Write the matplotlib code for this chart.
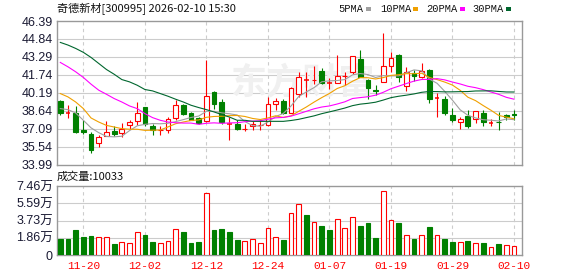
import numpy as np
import matplotlib
matplotlib.use('Agg')
import matplotlib.pyplot as plt
from matplotlib.patches import Rectangle

# ---------------- data ----------------
dates = ['11-17', '11-18', '11-19', '11-20', '11-21', '11-24', '11-25', '11-26', '11-27', '11-28',
         '12-01', '12-02', '12-03', '12-04', '12-05', '12-08', '12-09', '12-10', '12-11', '12-12',
         '12-15', '12-16', '12-17', '12-18', '12-19', '12-22', '12-23', '12-24', '12-25', '12-26',
         '12-29', '12-30', '12-31', '01-05', '01-06', '01-07', '01-08', '01-09', '01-12', '01-13',
         '01-14', '01-15', '01-16', '01-19', '01-20', '01-21', '01-22', '01-23', '01-26', '01-27',
         '01-28', '01-29', '01-30', '02-02', '02-03', '02-04', '02-05', '02-06', '02-09', '02-10']

opens = [39.45, 38.44, 38.47, 36.97, 36.59, 35.87, 36.48, 36.85, 36.71, 37.40,
         37.75, 38.93, 37.28, 36.94, 37.00, 38.04, 39.17, 38.47, 38.04, 37.75,
         40.26, 39.43, 37.46, 37.46, 37.07, 37.30, 37.37, 37.40, 39.25, 39.45,
         38.47, 40.06, 41.25, 41.25, 42.06, 41.02, 41.04, 41.64, 42.00, 43.10,
         41.33, 40.43, 41.16, 42.49, 43.47, 40.75, 41.91, 41.51, 42.14, 39.70,
         39.63, 38.30, 37.69, 38.15, 37.95, 38.47, 37.57, 37.68, 38.30, 38.35]
highs = [39.54, 39.17, 39.02, 37.81, 36.79, 36.50, 37.72, 37.28, 37.60, 37.81,
         39.39, 38.95, 37.52, 37.28, 38.09, 39.54, 39.25, 38.50, 38.09, 43.01,
         40.30, 39.69, 38.09, 37.81, 37.46, 37.72, 37.81, 39.78, 39.74, 39.63,
         40.70, 41.94, 41.94, 42.49, 42.29, 41.47, 43.44, 42.00, 43.36, 43.88,
         41.35, 40.84, 45.38, 43.70, 43.50, 42.40, 42.14, 42.72, 42.25, 40.17,
         39.95, 38.87, 38.09, 38.67, 38.60, 38.73, 37.95, 38.53, 38.33, 38.67]
lows = [38.24, 38.00, 36.71, 36.65, 35.00, 35.49, 36.42, 36.42, 36.39, 37.09,
        37.37, 37.28, 36.50, 36.50, 36.74, 37.87, 38.24, 37.82, 37.52, 37.70,
        38.82, 37.52, 36.13, 37.00, 36.85, 36.94, 36.94, 37.35, 38.67, 38.33,
        38.42, 39.78, 39.78, 40.93, 40.93, 40.55, 40.99, 40.84, 41.85, 41.51,
        39.69, 39.97, 41.13, 42.00, 41.13, 40.35, 41.19, 41.45, 39.31, 38.09,
        38.30, 37.66, 37.05, 37.17, 37.57, 37.28, 37.28, 36.94, 37.87, 37.87]
closes = [38.47, 38.44, 36.77, 36.83, 35.27, 36.39, 36.82, 36.59, 37.09, 37.69,
          38.47, 37.46, 36.94, 36.98, 37.92, 39.17, 38.33, 37.87, 37.60, 39.95,
          39.19, 37.66, 37.46, 37.09, 37.10, 37.45, 37.40, 39.25, 39.45, 38.47,
          40.64, 41.51, 41.25, 41.30, 40.99, 41.04, 41.65, 41.67, 43.33, 41.56,
          40.60, 40.38, 42.49, 43.21, 41.56, 41.94, 41.62, 42.08, 39.65, 39.73,
          38.44, 37.81, 37.95, 37.28, 38.59, 37.66, 37.59, 37.64, 38.13, 38.31]

# volume in 万 (10k lots)
volumes = [1.73, 1.73, 2.70, 1.95, 2.05, 1.91, 1.91, 1.19, 1.37, 1.30,
           2.45, 2.16, 1.41, 1.30, 1.48, 2.77, 2.49, 1.30, 1.41, 6.67,
           2.70, 2.81, 2.49, 1.62, 1.48, 1.70, 1.30, 2.88, 1.91, 1.62,
           4.50, 5.51, 4.32, 3.53, 3.14, 2.70, 3.86, 2.88, 4.07, 3.14,
           3.46, 1.84, 6.88, 3.75, 3.46, 2.13, 1.73, 2.13, 3.03, 2.13,
           1.73, 1.41, 1.41, 1.51, 1.26, 1.30, 0.83, 1.19, 1.05, 1.0033]
vol_up = [0, 0, 0, 0, 0, 1, 1, 0, 1, 1,
          1, 0, 0, 1, 1, 1, 0, 0, 0, 1,
          0, 0, 0, 0, 1, 1, 1, 1, 1, 0,
          1, 1, 0, 1, 0, 0, 1, 1, 1, 0,
          0, 0, 1, 1, 0, 1, 0, 1, 0, 1,
          0, 0, 1, 0, 1, 0, 1, 0, 1, 1]

# moving-average values before a full window is available
ma5_head = [38.82, 38.73, 38.44, 37.81]
ma10_head = [40.12, 39.83, 39.39, 38.82, 38.01, 37.66, 37.37, 37.23, 37.09]
ma20_head = [42.81, 42.43, 42.00, 41.51, 40.93, 40.41, 40.06, 39.69, 39.39, 39.05,
             38.82, 38.39, 38.04, 37.81, 37.66, 37.60, 37.57, 37.57, 37.46]
ma30_head = [44.54, 44.31, 44.02, 43.68, 43.24, 42.72, 42.20, 41.79, 41.33, 41.13,
             40.84, 40.47, 40.35, 40.12, 39.89, 39.63, 39.39, 39.11, 38.91, 38.73,
             38.53, 38.30, 38.09, 37.81, 37.81, 37.72, 37.72, 37.72, 37.72]

price_ticks = [33.99, 35.54, 37.09, 38.64, 40.19, 41.74, 43.29, 44.84, 46.39]
vol_ticks = [0, 1.865, 3.73, 5.595, 7.46]
vol_tick_labels = ['0', '1.86万', '3.73万', '5.59万', '7.46万']
label_dates = ['11-20', '12-02', '12-12', '12-24', '01-07', '01-19', '01-29', '02-10']

title_text = '奇德新材[300995] 2026-02-10 15:30'
vol_title = '成交量:10033'
ma_names = ['5PMA', '10PMA', '20PMA', '30PMA']
ma_windows = [5, 10, 20, 30]
ma_colors = ['#a0a0a0', '#f0a000', '#ff00ff', '#00662e']

RED = '#ff0000'
GREEN = '#008000'
LW = 0.8

# ---------------- figure ----------------
W, H = 578, 276
fig = plt.figure(figsize=(W / 100, H / 100), dpi=100)
fig.patch.set_facecolor('white')

def frac_box(left, top, right, bottom):
    return [left / W, 1 - bottom / H, (right - left) / W, (bottom - top) / H]

ax = fig.add_axes(frac_box(57, 21, 522, 164.5))
axv = fig.add_axes(frac_box(57, 186, 522, 255))

n = len(closes)
x = np.arange(n)
o = np.array(opens); h = np.array(highs); l = np.array(lows); c = np.array(closes)
label_idx = [dates.index(d) for d in label_dates]

for a in (ax, axv):
    a.set_xlim(-0.43, n + 0.04)
    for s in a.spines.values():
        s.set_color('#999999')
        s.set_linewidth(1)
    a.tick_params(length=0)
    for xi in label_idx:
        a.axvline(xi, color='#cccccc', lw=LW, ls=(0, (3, 3)), zorder=0)

# price panel
ax.set_ylim(price_ticks[0], price_ticks[-1])
ax.set_yticks(price_ticks)
ax.set_yticklabels([f'{t:.2f}' for t in price_ticks], fontsize=9,
                   family='Liberation Sans', color='#1a1a33')
ax.tick_params(axis='y', pad=3)
ax.set_xticks([])
for t in price_ticks[1:-1]:
    ax.axhline(t, color='#cccccc', lw=LW, zorder=0)

# watermark
ax.text(0.53, 0.57, '东方财富', transform=ax.transAxes, fontsize=26,
        family='Noto Sans CJK SC', fontweight='bold', color='#f0f0f0',
        ha='center', va='center', style='italic', zorder=0.5)

bw = 0.62
for i in range(n):
    up = c[i] >= o[i]
    col = RED if up else GREEN
    ax.vlines(x[i], l[i], h[i], color=col, lw=LW, zorder=2)
    bottom = min(o[i], c[i])
    height = max(abs(c[i] - o[i]), 0.02)
    if abs(c[i] - o[i]) < 0.03:
        ax.hlines((o[i] + c[i]) / 2, x[i] - bw / 2, x[i] + bw / 2, color=col, lw=1.1, zorder=3)
    else:
        ax.add_patch(Rectangle((x[i] - bw / 2, bottom), bw, height,
                               facecolor='white' if up else GREEN, edgecolor=col,
                               lw=LW, zorder=3))

heads = [ma5_head, ma10_head, ma20_head, ma30_head]
for wdw, head, col in zip(ma_windows, heads, ma_colors):
    vals = np.empty(n)
    vals[:wdw - 1] = head
    for i in range(wdw - 1, n):
        vals[i] = c[i - wdw + 1:i + 1].mean()
    ax.plot(x, vals, color=col, lw=LW, zorder=4)

# volume panel
axv.set_ylim(0, vol_ticks[-1])
axv.set_yticks(vol_ticks)
axv.set_yticklabels(vol_tick_labels, fontsize=9,
                    family=['Liberation Sans', 'Noto Sans CJK SC'], color='#1a1a33')
axv.tick_params(axis='y', pad=3)
for t in vol_ticks[1:-1]:
    axv.axhline(t, color='#cccccc', lw=LW, zorder=0)
for i in range(n):
    col = RED if vol_up[i] else GREEN
    axv.add_patch(Rectangle((x[i] - bw / 2, 0), bw, volumes[i],
                            facecolor='white' if vol_up[i] else GREEN,
                            edgecolor=col, lw=LW, zorder=3))
axv.set_xticks(label_idx)
axv.set_xticklabels(label_dates, fontsize=8, family='Liberation Mono', color=RED)
axv.tick_params(axis='x', pad=4)

# texts
fig.text(57 / W, 1 - 9 / H, title_text, fontsize=8, family='Noto Sans CJK SC',
         ha='left', va='center', color='#111111')
fig.text(57 / W, 1 - 177 / H, vol_title, fontsize=8, family='Noto Sans CJK SC',
         ha='left', va='center', color='#111111')

leg_x = [338, 380, 426, 472]
sq_x = [366, 413, 460, 506]
for name, lx, sx, col in zip(ma_names, leg_x, sq_x, ma_colors):
    fig.text(lx / W, 1 - 9 / H, name, fontsize=7.5, family='Liberation Mono',
             ha='left', va='center', color='#111111')
    fig.patches.append(Rectangle((sx / W, 1 - 11 / H), 5 / W, 4 / H,
                                 transform=fig.transFigure, facecolor=col,
                                 edgecolor='none'))

fig.savefig('out.png', dpi=100, facecolor='white')
